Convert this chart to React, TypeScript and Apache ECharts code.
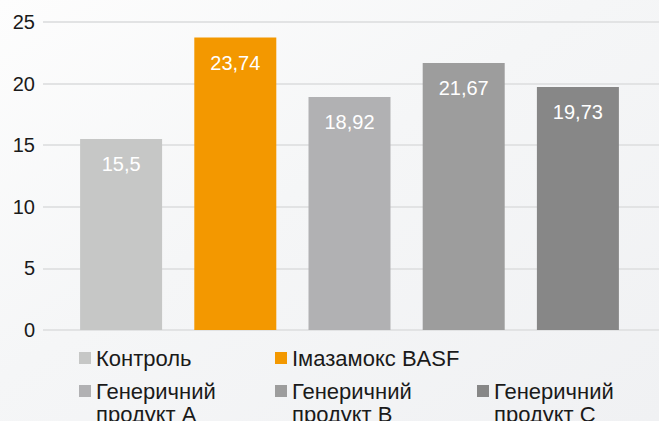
import React, { useEffect, useRef } from "react";
import * as echarts from "echarts";

const categories = ["Контроль", "Імазамокс BASF", "Генеричний\nпродукт A", "Генеричний\nпродукт B", "Генеричний\nпродукт C"];
const values = [15.5, 23.74, 18.92, 21.67, 19.73];
const colors = ["#c6c7c6", "#f39800", "#b1b1b3", "#9d9d9d", "#878787"];
const yTicks = [0, 5, 10, 15, 20, 25];

const FONT = "'Liberation Sans', Arial, Helvetica, sans-serif";

export default function App() {
  const ref = useRef<HTMLDivElement>(null);
  useEffect(() => {
    if (!ref.current) return;
    const chart = echarts.init(ref.current, undefined, { renderer: "svg" });
    const series = categories.map((name, i) => ({
      name,
      type: "bar",
      stack: "all",
      xAxisIndex: 1,
      yAxisIndex: 1,
      barWidth: 82,
      itemStyle: { color: colors[i] },
      label: {
        show: true,
        position: "insideTop",
        distance: 15,
        color: "#ffffff",
        fontSize: 20,
        fontFamily: FONT,
        formatter: (p: any) => String(p.value).replace(".", ","),
      },
      data: values.map((v, j) => (j === i ? v : "-")),
    }));
    const legendPos = [
      { left: 79, top: 346.5, two: false },
      { left: 275, top: 346.5, two: false },
      { left: 79, top: 356.5, two: true },
      { left: 275, top: 356.5, two: true },
      { left: 477, top: 356.5, two: true },
    ];
    const legend = categories.map((name, i) => ({
      data: [name],
      left: legendPos[i].left,
      top: legendPos[i].top,
      padding: 0,
      itemWidth: 12,
      itemHeight: 12,
      icon: "rect",
      selectedMode: false,
      formatter: (n: string) => (legendPos[i].two ? "\n" + n : n),
      textStyle: {
        fontSize: 22,
        fontFamily: FONT,
        color: "#1a1a1a",
        lineHeight: 23,
      },
    }));
    chart.setOption({
      animation: false,
      backgroundColor: {
        type: "linear",
        x: 0,
        y: 0,
        x2: 1,
        y2: 1,
        colorStops: [
          { offset: 0, color: "#fdfdfd" },
          { offset: 0.45, color: "#f5f6f7" },
          { offset: 1, color: "#f0f1f3" },
        ],
      },
      grid: [
        { left: 43, right: 0, top: 22, bottom: 91 },
        { left: 64, right: 24, top: 22, bottom: 91 },
      ],
      xAxis: [
        { gridIndex: 0, type: "category", data: [""], show: false },
        { gridIndex: 1, type: "category", data: categories, show: false },
      ],
      yAxis: [
        {
          gridIndex: 0,
          type: "value",
          min: yTicks[0],
          max: yTicks[yTicks.length - 1],
          interval: 5,
          axisLine: { show: false },
          axisTick: { show: false },
          axisLabel: { fontSize: 20, fontFamily: FONT, color: "#1a1a1a", margin: 8 },
          splitLine: { lineStyle: { color: "#e2e3e4", width: 2 } },
        },
        {
          gridIndex: 1,
          type: "value",
          min: yTicks[0],
          max: yTicks[yTicks.length - 1],
          interval: 5,
          show: false,
          splitLine: { show: false },
        },
      ],
      legend,
      series,
    });
    return () => chart.dispose();
  }, []);
  return (
    <div
      ref={ref}
      style={{ position: "fixed", left: 0, top: 0, width: 659, height: 421 }}
    />
  );
}
